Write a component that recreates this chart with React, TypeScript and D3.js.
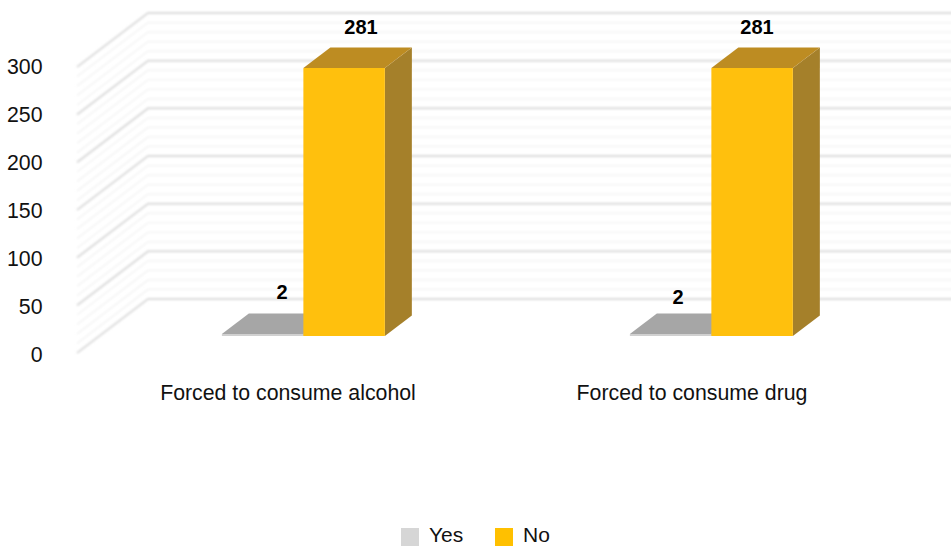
import React from "react";
import * as d3 from "d3";

const categories = ["Forced to consume alcohol", "Forced to consume drug"];
const seriesNames = ["Yes", "No"];
const yesValues = [2, 2];
const noValues = [281, 281];
const yTicks = [0, 50, 100, 150, 200, 250, 300];
const minorTicks = d3.range(0, 301, 10).filter((v) => v % 50 !== 0);

const W = 951, H = 547;
const FONT = "'Liberation Sans', Arial, sans-serif";
const DX = 71, DY = -54;
const Z0 = 0.315, Z1 = 0.695;

const colors = {
  Yes: { front: "#d0d0d0", top: "#a6a6a6", side: "#8f8f8f" },
  No: { front: "#ffc010", top: "#bd8c24", side: "#a5802c" },
};

// layout tweaks for labels, which sit off-centre in the original
const catLabelX = [288, 692];
const labelYesPos = [[282, 292], [678, 297]];
const labelNoPos = [[361, 27], [757, 27]];

const y = d3.scaleLinear().domain([0, 300]).range([353, 67]);
const x0 = d3.scaleBand().domain(categories).range([77, 893]);

const P = (x: number, v: number, z: number): [number, number] => [x + DX * z, y(v) + DY * z];
const poly = (pts: [number, number][]) => d3.line()(pts) + "Z";

function Bar({ x, w, v, c }: { x: number; w: number; v: number; c: { front: string; top: string; side: string } }) {
  const a = P(x, v, Z0), b = P(x + w, v, Z0), c0 = P(x + w, 0, Z0), d = P(x, 0, Z0);
  const e = P(x, v, Z1), f = P(x + w, v, Z1), g = P(x + w, 0, Z1);
  return (
    <g>
      <path d={poly([b, f, g, c0])} fill={c.side} />
      <path d={poly([a, e, f, b])} fill={c.top} />
      <path d={poly([a, b, c0, d])} fill={c.front} />
    </g>
  );
}

export default function App() {
  const barW = 81.5;
  const left = (cat: string) => (x0(cat) as number) + x0.bandwidth() / 2;
  return (
    <svg width={W} height={H} viewBox={`0 0 ${W} ${H}`} style={{ position: "absolute", left: 0, top: 0, background: "#fff" }}>
      <defs>
        <filter id="soft" x="-5%" y="-5%" width="110%" height="110%">
          <feGaussianBlur stdDeviation="0.9" />
        </filter>
        <filter id="softBar" x="-5%" y="-5%" width="110%" height="110%">
          <feGaussianBlur stdDeviation="0.45" />
        </filter>
      </defs>
      <g filter="url(#soft)" fill="none">
        {minorTicks.map((v) => {
          const a = P(77, v, 0), b = P(77, v, 1);
          return (
            <path key={v} d={d3.line()([a, b, [W + 10, b[1]]]) as string} stroke="#f1f1f1" strokeWidth={1.2} />
          );
        })}
        {yTicks.map((v) => {
          const a = P(77, v, 0), b = P(77, v, 1);
          return (
            <path key={v} d={d3.line()([a, b, [W + 10, b[1]]]) as string} stroke="#dcdcdc" strokeWidth={2} />
          );
        })}
      </g>
      <g filter="url(#softBar)">
        {categories.map((cat, i) => (
          <g key={cat}>
            <Bar x={left(cat) - barW} w={barW} v={yesValues[i]} c={colors.Yes} />
            <Bar x={left(cat)} w={barW} v={noValues[i]} c={colors.No} />
          </g>
        ))}
      </g>
      {yTicks.map((v) => (
        <text key={v} x={42.5} y={y(v) + 8.5 - (v / 300) * 1.5} textAnchor="end" fontFamily={FONT} fontSize={21.3} fill="#111">{v}</text>
      ))}
      {categories.map((cat, i) => (
        <g key={cat}>
          <text x={catLabelX[i]} y={400} textAnchor="middle" fontFamily={FONT} fontSize={21.3} fill="#111">{cat}</text>
          <text x={labelYesPos[i][0]} y={labelYesPos[i][1] + 7} textAnchor="middle" fontFamily={FONT} fontSize={20} fontWeight="bold" fill="#000">{yesValues[i]}</text>
          <text x={labelNoPos[i][0]} y={labelNoPos[i][1] + 7} textAnchor="middle" fontFamily={FONT} fontSize={20} fontWeight="bold" fill="#000">{noValues[i]}</text>
        </g>
      ))}
      {seriesNames.map((s, i) => {
        const lx = [401, 495][i];
        return (
          <g key={s}>
            <rect x={lx} y={528} width={18} height={18} fill={i === 0 ? "#d6d6d6" : "#ffc000"} />
            <text x={lx + 28} y={542.4} fontFamily={FONT} fontSize={21} fill="#111">{s}</text>
          </g>
        );
      })}
    </svg>
  );
}
